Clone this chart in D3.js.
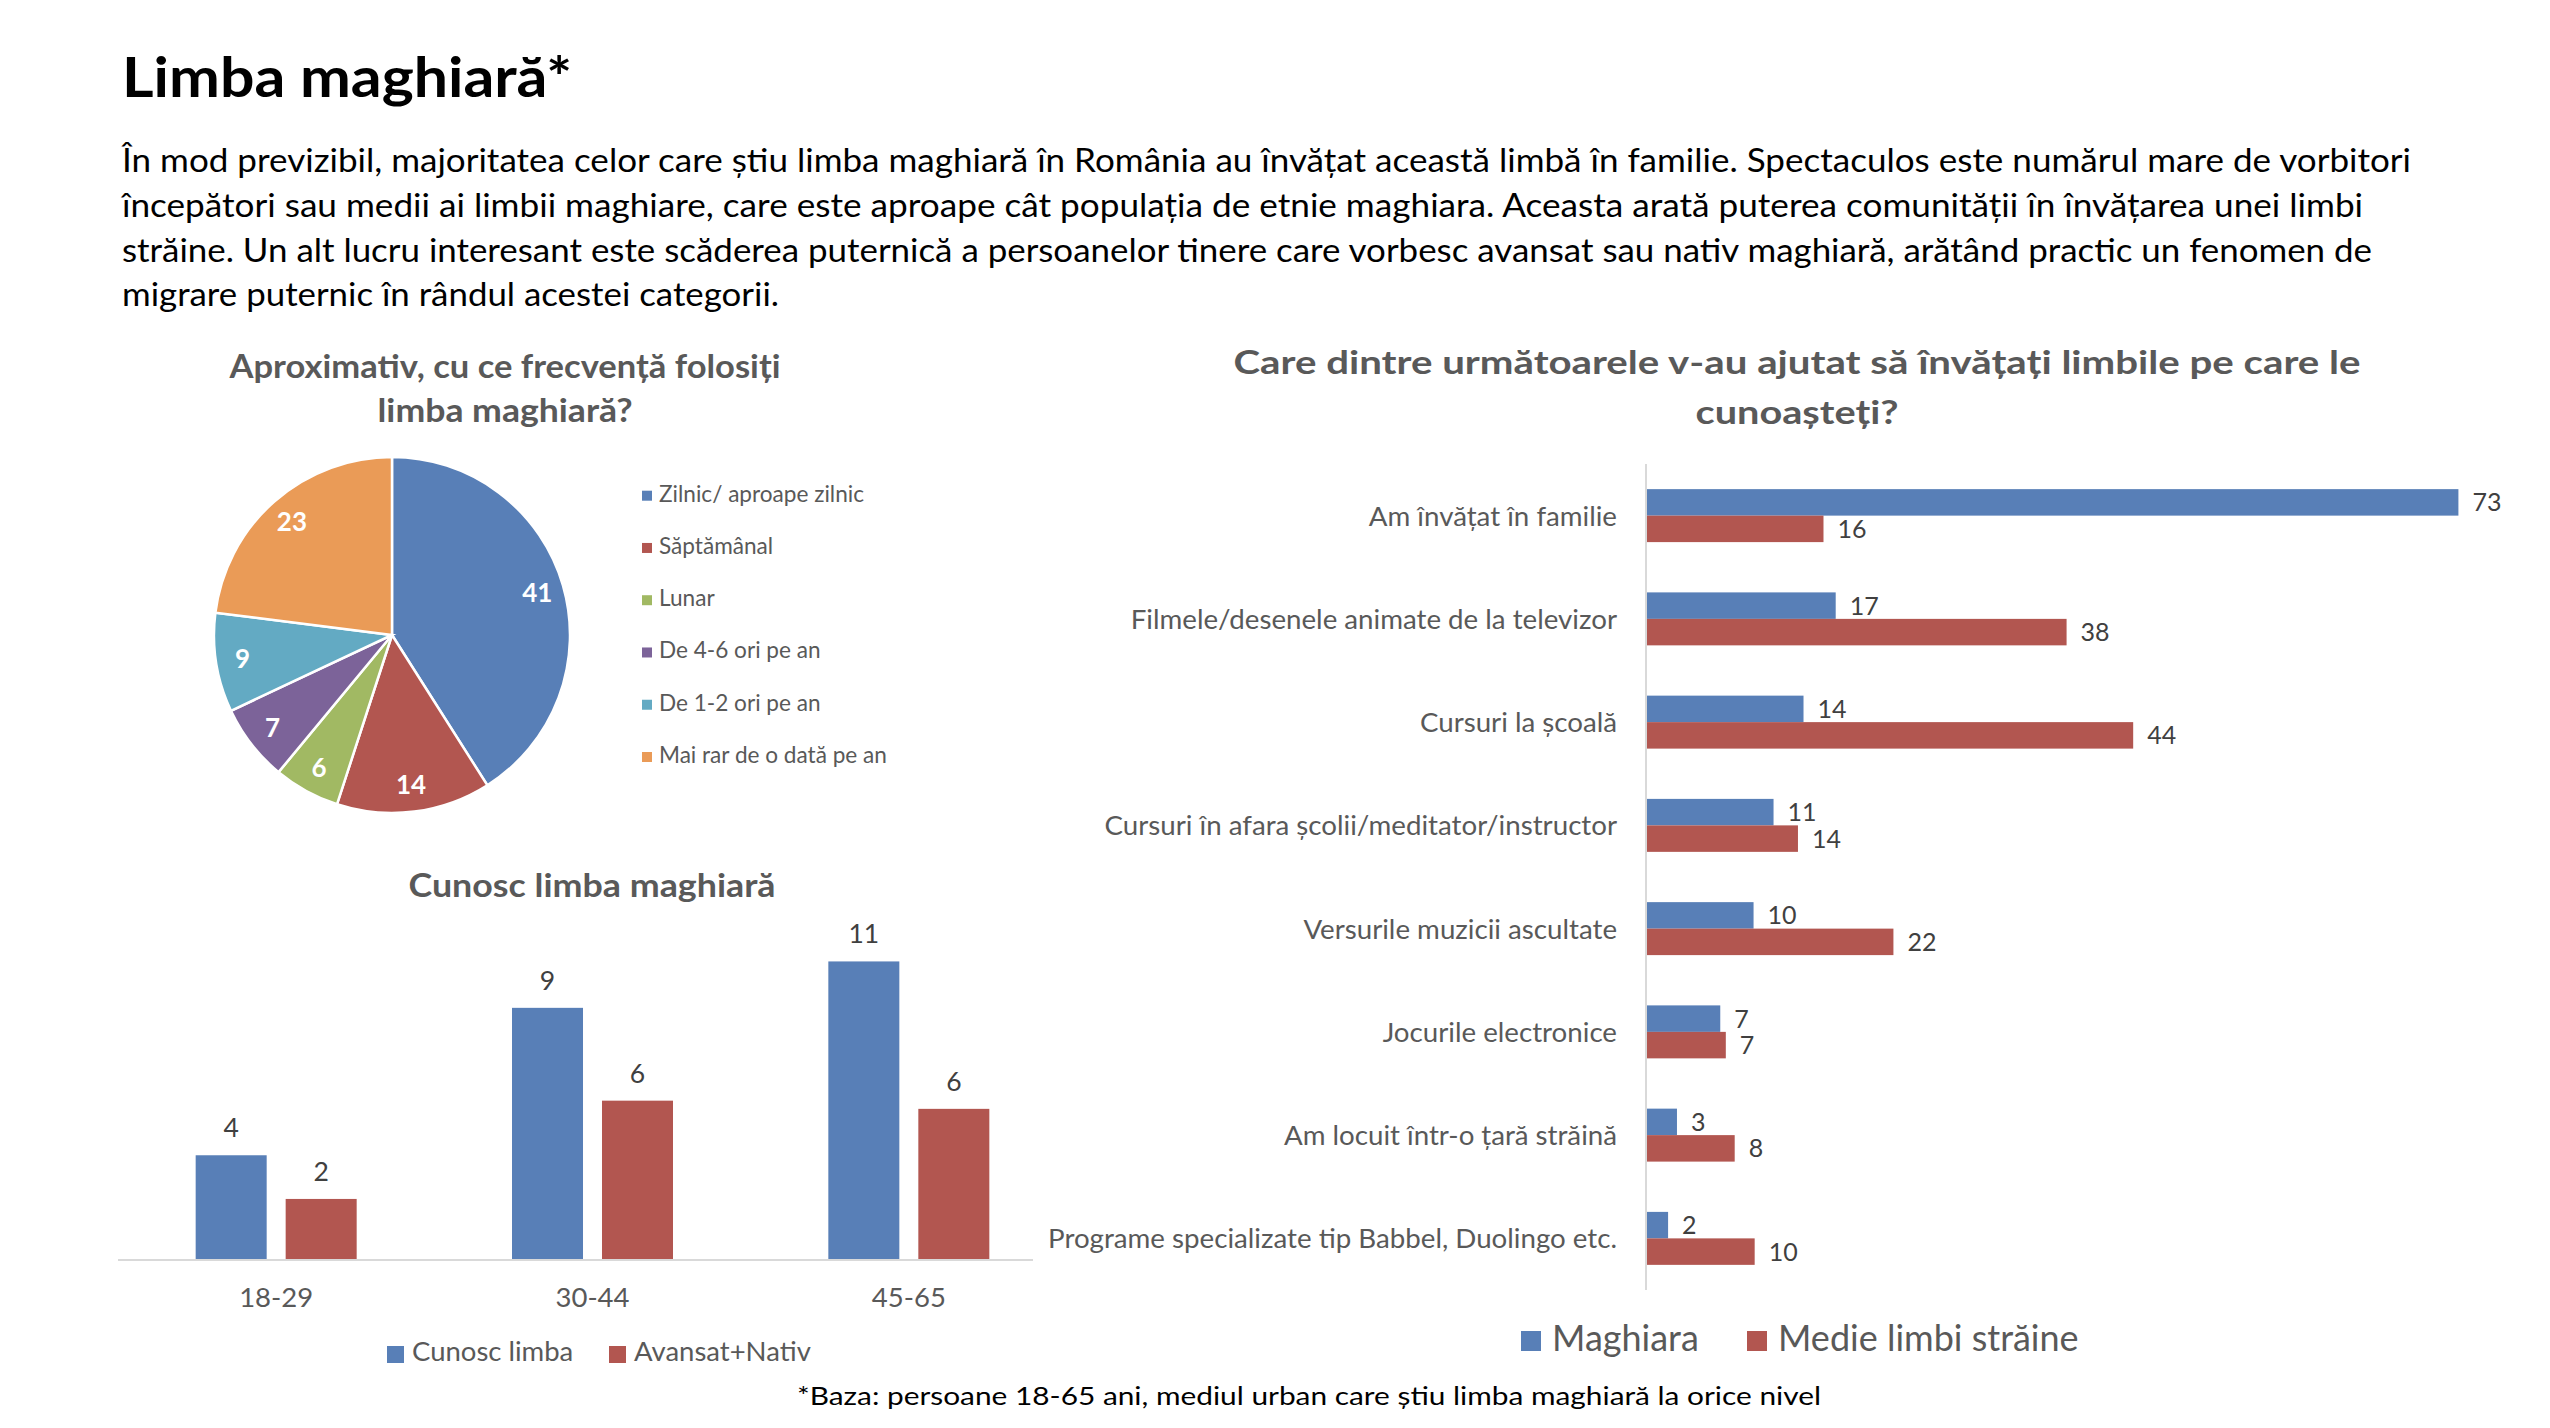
<!DOCTYPE html>
<html>
<head>
<meta charset="utf-8">
<script src="https://cdn.jsdelivr.net/npm/d3@7"></script>
<style>
  html, body { margin: 0; padding: 0; background: #fff; }
  svg { display: block; }
</style>
</head>
<body>
<script>
// ---------------- DATA ----------------
const headline = "Limba maghiară*";
const paragraphLines = [
  "În mod previzibil, majoritatea celor care știu limba maghiară în România au învățat această limbă în familie. Spectaculos este numărul mare de vorbitori",
  "începători sau medii ai limbii maghiare, care este aproape cât populația de etnie maghiara. Aceasta arată puterea comunității în învățarea unei limbi",
  "străine. Un alt lucru interesant este scăderea puternică a persoanelor tinere care vorbesc avansat sau nativ maghiară, arătând practic un fenomen de",
  "migrare puternic în rândul acestei categorii."
];
const footnote = "*Baza: persoane 18-65 ani, mediul urban care știu limba maghiară la orice nivel";

const pieTitle = ["Aproximativ, cu ce frecvență folosiți", "limba maghiară?"];
const pieCategories = ["Zilnic/ aproape zilnic", "Săptămânal", "Lunar", "De 4-6 ori pe an", "De 1-2 ori pe an", "Mai rar de o dată pe an"];
const pieValues = [41, 14, 6, 7, 9, 23];
const pieColors = ["#587fb7", "#b25650", "#a1b963", "#7c6399", "#63aac3", "#ea9b57"];

const ageTitle = "Cunosc limba maghiară";
const ageGroups = ["18-29", "30-44", "45-65"];
const ageSeries = ["Cunosc limba", "Avansat+Nativ"];
const knowValues = [3.8, 9.2, 10.9];
const advancedValues = [2.2, 5.8, 5.5];

const helpTitle = ["Care dintre următoarele v-au ajutat să învățați limbile pe care le", "cunoașteți?"];
const helpCategories = [
  "Am învățat în familie",
  "Filmele/desenele animate de la televizor",
  "Cursuri la școală",
  "Cursuri în afara școlii/meditator/instructor",
  "Versurile muzicii ascultate",
  "Jocurile electronice",
  "Am locuit într-o țară străină",
  "Programe specializate tip Babbel, Duolingo etc."
];
const helpSeries = ["Maghiara", "Medie limbi străine"];
const maghiaraValues = [73.1, 17.0, 14.1, 11.4, 9.6, 6.6, 2.7, 1.9];
const medieValues = [15.9, 37.8, 43.8, 13.6, 22.2, 7.1, 7.9, 9.7];

const seriesColors = ["#587fb7", "#b25650"];

// ---------------- SETUP ----------------
const W = 2550, H = 1428;
const FONT = "Lato, 'Open Sans', 'DejaVu Sans', sans-serif";
const svg = d3.select("body").append("svg")
  .attr("width", W).attr("height", H)
  .style("font-family", FONT);
svg.append("rect").attr("width", W).attr("height", H).attr("fill", "#fff");

const fmt = d3.format(".0f");

function addText(parent, x, y, str, size, opts = {}) {
  const t = parent.append("text")
    .attr("x", x).attr("y", y)
    .attr("font-size", size)
    .attr("fill", opts.fill || "#000")
    .attr("font-weight", opts.weight || 400)
    .attr("text-anchor", opts.anchor || "start")
    .text(str);
  if (opts.dy) t.attr("dy", opts.dy);
  if (opts.width) t.attr("textLength", opts.width).attr("lengthAdjust", "spacingAndGlyphs");
  return t;
}

// ---------------- HEADER ----------------
addText(svg, 122, 97, headline, 56, { weight: 700, width: 450 });
const paraWidths = [2289, 2241, 2250, 657];
paragraphLines.forEach((line, i) => {
  addText(svg, 122, 172 + i * 44.8, line, 32, { width: paraWidths[i] });
});

// ---------------- PIE ----------------
const pieTitleWidths = [551, 255];
pieTitle.forEach((line, i) => {
  addText(svg, 505, 378 + i * 44, line, 32, { weight: 700, fill: "#595959", anchor: "middle", width: pieTitleWidths[i] });
});

const R = 178;
const pieG = svg.append("g").attr("transform", "translate(392,635)");
const arcs = d3.pie().sort(null).value(d => d)(pieValues);
const arc = d3.arc().innerRadius(0).outerRadius(R);
const labelArc = d3.arc().innerRadius(R * 0.85).outerRadius(R * 0.85);
pieG.selectAll("path.slice").data(arcs).join("path")
  .attr("class", "slice")
  .attr("d", arc)
  .attr("fill", (d, i) => pieColors[i])
  .attr("stroke", "#fff")
  .attr("stroke-width", 2.5);
pieG.selectAll("text.plabel").data(arcs).join("text")
  .attr("class", "plabel")
  .attr("transform", d => `translate(${labelArc.centroid(d)})`)
  .attr("text-anchor", "middle")
  .attr("dy", "0.36em")
  .attr("font-size", 26)
  .attr("font-weight", 700)
  .attr("fill", "#fff")
  .text(d => fmt(d.data));

const pieLegendY = d3.scalePoint().domain(pieCategories).range([501.7, 763]);
const pieLeg = svg.append("g");
pieCategories.forEach((c, i) => {
  const by = pieLegendY(c);
  pieLeg.append("rect").attr("x", 642).attr("y", by - 11).attr("width", 10).attr("height", 10).attr("fill", pieColors[i]);
  addText(pieLeg, 659, by, c, 22.6, { fill: "#595959" });
});

// ---------------- AGE BAR CHART ----------------
addText(svg, 592, 897, ageTitle, 32, { weight: 700, fill: "#595959", anchor: "middle", width: 367 });

const x0 = d3.scaleBand().domain(ageGroups).range([118, 1067]);
const x1 = d3.scaleBand().domain(ageSeries).range([0, 161]).paddingInner(0.211);
const yAge = d3.scaleLinear().domain([0, 12]).range([1259, 1259 - 12 * 27.3]);
const ageData = [knowValues, advancedValues];

const ageG = svg.append("g");
ageSeries.forEach((s, si) => {
  ageGroups.forEach((g, gi) => {
    const v = ageData[si][gi];
    const gx = x0(g) + x0.bandwidth() / 2 - 80.5 + x1(s);
    ageG.append("rect")
      .attr("x", gx).attr("y", yAge(v))
      .attr("width", x1.bandwidth()).attr("height", yAge(0) - yAge(v))
      .attr("fill", seriesColors[si]);
    addText(ageG, gx + x1.bandwidth() / 2, yAge(v) - 18, fmt(v), 26.5, { fill: "#404040", anchor: "middle" });
  });
});
ageG.append("line").attr("x1", 118).attr("x2", 1033).attr("y1", yAge(0) + 1).attr("y2", yAge(0) + 1)
  .attr("stroke", "#d9d9d9").attr("stroke-width", 2);
ageGroups.forEach(g => {
  addText(ageG, x0(g) + x0.bandwidth() / 2, 1307, g, 27.5, { fill: "#595959", anchor: "middle" });
});
// legend
const ageLegX = [387, 609];
ageSeries.forEach((s, si) => {
  ageG.append("rect").attr("x", ageLegX[si]).attr("y", 1346).attr("width", 17).attr("height", 17).attr("fill", seriesColors[si]);
  addText(ageG, ageLegX[si] + 25, 1361, s, 27.5, { fill: "#595959" });
});

// ---------------- HORIZONTAL BAR CHART ----------------
const helpTitleWidths = [1127, 203];
helpTitle.forEach((line, i) => {
  addText(svg, 1797, 374 + i * 50, line, 32, { weight: 700, fill: "#595959", anchor: "middle", width: helpTitleWidths[i] });
});

const yH = d3.scaleBand().domain(helpCategories).range([464, 1290]).paddingInner(0.487).paddingOuter(0.2435);
const yS = d3.scaleBand().domain(helpSeries).range([0, yH.bandwidth()]);
const xH = d3.scaleLinear().domain([0, 80]).range([1647, 1647 + 80 * 11.1]);
const helpData = [maghiaraValues, medieValues];

const hG = svg.append("g");
helpSeries.forEach((s, si) => {
  helpCategories.forEach((c, ci) => {
    const v = helpData[si][ci];
    const by = yH(c) + yS(s);
    hG.append("rect")
      .attr("x", xH(0)).attr("y", by)
      .attr("width", xH(v) - xH(0)).attr("height", yS.bandwidth())
      .attr("fill", seriesColors[si]);
    addText(hG, xH(v) + 14, by + yS.bandwidth() / 2, fmt(v), 25, { fill: "#404040", dy: "0.36em" });
  });
});
hG.append("line").attr("x1", 1646).attr("x2", 1646).attr("y1", 464).attr("y2", 1290)
  .attr("stroke", "#d9d9d9").attr("stroke-width", 2);
helpCategories.forEach(c => {
  addText(hG, 1617, yH(c) + yH.bandwidth() / 2, c, 27.7, { fill: "#595959", anchor: "end", dy: "0.36em" });
});
const helpLegX = [1521, 1747];
helpSeries.forEach((s, si) => {
  hG.append("rect").attr("x", helpLegX[si]).attr("y", 1331).attr("width", 20).attr("height", 20).attr("fill", seriesColors[si]);
  addText(hG, helpLegX[si] + 31, 1351, s, 36, { fill: "#595959" });
});

// ---------------- FOOTNOTE ----------------
addText(svg, 1309, 1405, footnote, 25, { anchor: "middle", width: 1024 });
</script>
</body>
</html>
